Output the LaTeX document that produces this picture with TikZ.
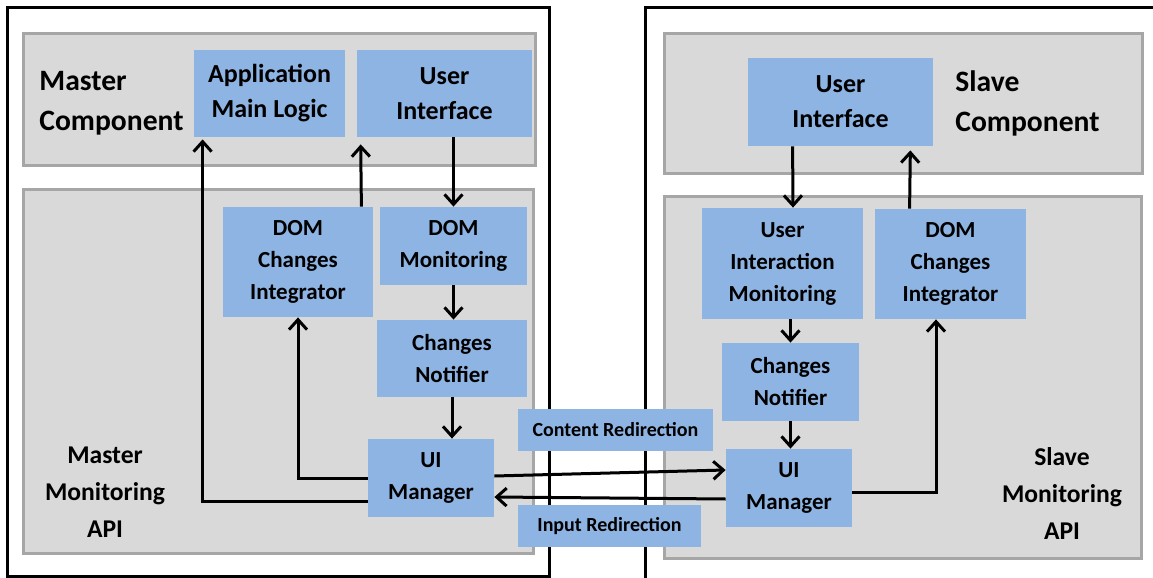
\documentclass[tikz,border=0pt]{standalone}
\usepackage{fontspec}
\setmainfont{Carlito}
\usetikzlibrary{arrows.meta}

\begin{document}
\begin{tikzpicture}[x=0.5pt, y=-0.5pt,
    region/.style={fill=regionFill, draw=regionBorder, line width=1.5pt},
    block/.style={fill=blockFill, inner sep=0pt, align=center, font=\fontsize{11.5}{16}\selectfont\bfseries},
    bigblock/.style={block, font=\fontsize{13}{17.5}\selectfont\bfseries},
    tag/.style={block, font=\fontsize{10}{12}\selectfont\bfseries},
    caption/.style={align=center, inner sep=0pt, font=\fontsize{12.8}{18.5}\selectfont\bfseries},
    title/.style={align=left, inner sep=0pt, anchor=west, font=\fontsize{14.8}{20}\selectfont\bfseries},
    flow/.style={line width=1.5pt, -{Straight Barb[length=5pt,width=9pt,line width=1.5pt]}}]
    \definecolor{regionFill}{HTML}{D9D9D9}
    \definecolor{regionBorder}{HTML}{A6A6A6}
    \definecolor{blockFill}{HTML}{8EB4E3}

    % Page frame
    \useasboundingbox (0,0) rectangle (1153,578);

    % Outer frames
    \draw[line width=1.5pt] (7,7) rectangle (549,576);
    \draw[line width=1.5pt] (645,600) -- (645,7) -- (1170,7);

    % Grey regions
    \draw[region] (23,33) rectangle (535,165);
    \draw[region] (23,189) rectangle (533,553);
    \draw[region] (664,33) rectangle (1142,173);
    \draw[region] (664,196) rectangle (1141,558);

    % Region titles
    \node[title] (mtitle) at (39,103) {Master\\Component};
    \node[title] (stitle) at (955,103) {Slave\\Component};
    \node[caption] (mcap) at (105,492) {Master\\Monitoring\\API};
    \node[caption] (scap) at (1062,494) {Slave\\Monitoring\\API};

    % Master blocks
    \node[bigblock, minimum width=75.5pt, minimum height=43.5pt] (appl) at (269.5,93.5) {Application\\Main Logic};
    \node[bigblock, minimum width=87.5pt, minimum height=43.5pt] (muif) at (444.5,93.5) {User\\Interface};
    \node[block, minimum width=75pt, minimum height=55pt] (mint) at (298,262) {DOM\\Changes\\Integrator};
    \node[block, minimum width=73.5pt, minimum height=39pt] (mdom) at (453.5,246) {DOM\\Monitoring};
    \node[block, minimum width=75pt, minimum height=38.5pt] (mnot) at (452,358.5) {Changes\\Notifier};
    \node[block, minimum width=63pt, minimum height=39pt] (mui) at (431,478) {UI\\Manager};

    % Redirection tags
    \node[tag, minimum width=97.5pt, minimum height=21pt] (content) at (615.5,430) {Content Redirection};
    \node[tag, minimum width=91.5pt, minimum height=21pt] (input) at (609.5,526) {Input Redirection};

    % Slave blocks
    \node[bigblock, minimum width=92.5pt, minimum height=44pt] (suif) at (840.5,102) {User\\Interface};
    \node[block, minimum width=80.5pt, minimum height=55.5pt] (suim) at (782.5,263.5) {User\\Interaction\\Monitoring};
    \node[block, minimum width=75.5pt, minimum height=55pt] (sint) at (950.5,264) {DOM\\Changes\\Integrator};
    \node[block, minimum width=68.5pt, minimum height=39pt] (snot) at (790.5,382) {Changes\\Notifier};
    \node[block, minimum width=63pt, minimum height=39pt] (sui) at (789,488) {UI\\Manager};

    % Master flows
    \draw[flow, shorten >=1pt] ([yshift=-11.5pt]mui.west) -| ([xshift=4.5pt]appl.south west);
    \draw[flow] (mui.west) -| (mint.south);
    \draw[flow, shorten >=3.5pt] ([xshift=-6pt]mint.north east) -- ([xshift=2pt]muif.south west);
    \draw[flow] (muif.south -| mdom.north) -- (mdom.north);
    \draw[flow] (mdom.south) -- (mdom.south |- mnot.north);
    \draw[flow] (mnot.south) -- (mnot.south |- mui.north);

    % Between master and slave
    \draw[flow] ([yshift=1pt]mui.east) -- ([yshift=9pt]sui.west);
    \draw[flow] ([yshift=-5.5pt]sui.west) -- ([yshift=-9.5pt]mui.east);

    % Slave flows
    \draw[flow] ([xshift=22.5pt]suif.south west) -- ([xshift=5.25pt]suim.north);
    \draw[flow] (snot.north |- suim.south) -- (snot.north);
    \draw[flow] (snot.south) -- (snot.south |- sui.north);
    \draw[flow] ([yshift=-2pt]sui.east) -| ([xshift=-7.25pt]sint.south);
    \draw[flow, shorten >=2pt] ([xshift=17.5pt]sint.north west) -- ([xshift=-11.5pt]suif.south east);

\end{tikzpicture}
\end{document}
